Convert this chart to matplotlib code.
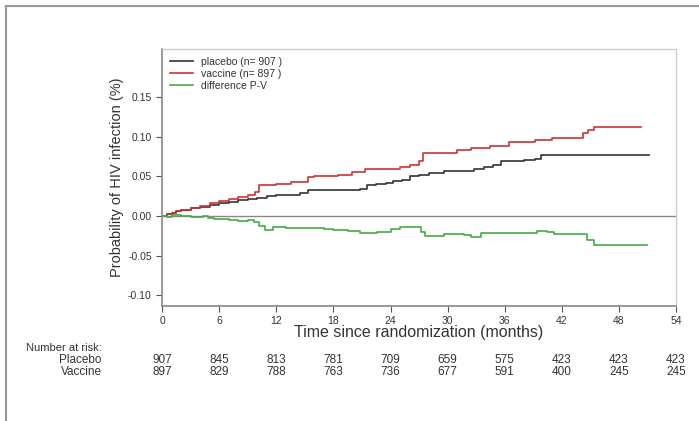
import matplotlib
matplotlib.use("Agg")
import matplotlib.pyplot as plt
from matplotlib.lines import Line2D

plt.rcParams['font.family'] = ['Liberation Sans', 'DejaVu Sans']

# curves (months, probability)
placebo_t = [0, 0.5, 1, 1.5, 2, 3, 4, 5, 6, 7, 8, 9, 10, 11, 12, 13, 14.5, 15.3, 20.8, 21.5,
             22.5, 23.5, 24.3, 25.2, 26.1, 27, 28, 29.6, 32.8, 33.8, 34.8, 35.6, 36.6, 38, 39.2,
             39.8, 51.2]
placebo_p = [0, 0.002, 0.004, 0.006, 0.008, 0.010, 0.012, 0.014, 0.016, 0.018, 0.020, 0.021,
             0.023, 0.025, 0.026, 0.027, 0.029, 0.033, 0.034, 0.039, 0.041, 0.042, 0.044, 0.046,
             0.050, 0.052, 0.054, 0.057, 0.060, 0.0625, 0.0645, 0.069, 0.070, 0.071, 0.072,
             0.0765, 0.0765]

vaccine_t = [0, 0.5, 1, 1.5, 2, 3, 4, 5, 6, 7, 8, 9, 9.8, 10.2, 12, 13.5, 15.3, 16, 18.5, 20,
             21.3, 25, 26, 27, 27.4, 31, 32.5, 34.5, 36.5, 39.2, 41, 44.2, 44.8, 45.4, 50.3]
vaccine_p = [0, 0.002, 0.004, 0.006, 0.008, 0.010, 0.013, 0.017, 0.019, 0.021, 0.024, 0.027,
             0.030, 0.039, 0.041, 0.043, 0.049, 0.050, 0.052, 0.055, 0.060, 0.062, 0.065, 0.069,
             0.0795, 0.0835, 0.086, 0.089, 0.093, 0.0955, 0.099, 0.105, 0.109, 0.113, 0.113]

diff_t = [0, 0.5, 1, 2, 3, 4.3, 4.8, 5.5, 7, 8, 9, 9.6, 10.2, 10.8, 11.7, 13, 15, 17, 18, 19.5,
          20.8, 22.6, 24, 25, 26.1, 27.2, 27.6, 29.6, 31.7, 32.5, 33.5, 35, 37.5, 39.4, 40.5,
          41.2, 44, 44.7, 45.4, 51]
diff_p = [0, -0.001, 0.001, 0, -0.001, 0.0, -0.002, -0.004, -0.005, -0.006, -0.005, -0.007,
          -0.013, -0.017, -0.014, -0.0156, -0.015, -0.016, -0.017, -0.0186, -0.021, -0.0198,
          -0.0165, -0.0143, -0.0135, -0.020, -0.025, -0.022, -0.024, -0.027, -0.0215, -0.021,
          -0.0215, -0.0186, -0.020, -0.0228, -0.0228, -0.030, -0.036, -0.036]

risk_times = [0, 6, 12, 18, 24, 30, 36, 42, 48, 54]
risk_placebo = [907, 845, 813, 781, 709, 659, 575, 423, 423, 423]
risk_vaccine = [897, 829, 788, 763, 736, 677, 591, 400, 245, 245]

fig = plt.figure(figsize=(6.99, 4.21), dpi=100)
ax = fig.add_axes([0.232, 0.274, 0.735, 0.610])

ax.axhline(0, color="#888888", lw=1.0, zorder=1)
ax.plot(placebo_t, placebo_p, drawstyle="steps-post", color="#333333", lw=1.2,
        label="placebo (n= 907 )")
ax.plot(vaccine_t, vaccine_p, drawstyle="steps-post", color="#cc3333", lw=1.2,
        label="vaccine (n= 897 )")
ax.plot(diff_t, diff_p, drawstyle="steps-post", color="#44aa44", lw=1.2,
        label="difference P-V")

ax.set_xlim(0, 54)
ax.set_ylim(-0.113, 0.211)
ax.set_xticks(risk_times)
ax.set_yticks([-0.10, -0.05, 0.00, 0.05, 0.10, 0.15])
ax.set_yticklabels(["-0.10", "-0.05", "0.00", "0.05", "0.10", "0.15"])
ax.tick_params(labelsize=7.5, colors="#555555", length=4, width=0.8, labelcolor="#333333")

for side in ["left", "bottom"]:
    ax.spines[side].set_color("#888888")
    ax.spines[side].set_linewidth(1.2)
for side in ["top", "right"]:
    ax.spines[side].set_color("#cccccc")
    ax.spines[side].set_linewidth(1.0)

ax.set_ylabel("Probability of HIV infection (%)", fontsize=10.5, color="#333333", labelpad=3)
ax.set_xlabel("Time since randomization (months)", fontsize=11.5, color="#333333", labelpad=-1)

ax.legend(loc="upper left", frameon=False, fontsize=7.5, handlelength=2.2,
          labelspacing=0.2, borderaxespad=0.35, labelcolor="#333333")

# number at risk table
tf = ax.get_xaxis_transform()
fig.text(26 / 699, 1 - 348 / 421, "Number at risk:", fontsize=8, color="#333333",
         va="center", ha="left")
fig.text(102 / 699, 1 - 360 / 421, "Placebo", fontsize=8.5, color="#333333",
         va="center", ha="right")
fig.text(102 / 699, 1 - 372 / 421, "Vaccine", fontsize=8.5, color="#333333",
         va="center", ha="right")
y_pl = (1 - 360 / 421 - 0.274) / 0.610
y_va = (1 - 372 / 421 - 0.274) / 0.610
for t, n1, n2 in zip(risk_times, risk_placebo, risk_vaccine):
    ax.text(t, y_pl, str(n1), transform=tf, fontsize=8.5, color="#333333",
            ha="center", va="center", clip_on=False)
    ax.text(t, y_va, str(n2), transform=tf, fontsize=8.5, color="#333333",
            ha="center", va="center", clip_on=False)

# outer frame lines (top and left)
fig.add_artist(Line2D([6 / 699, 1], [1 - 6 / 421, 1 - 6 / 421], transform=fig.transFigure,
                      color="#999999", lw=1.5))
fig.add_artist(Line2D([6 / 699, 6 / 699], [0, 1 - 6 / 421], transform=fig.transFigure,
                      color="#999999", lw=1.5))

fig.savefig("out.png", dpi=100)
